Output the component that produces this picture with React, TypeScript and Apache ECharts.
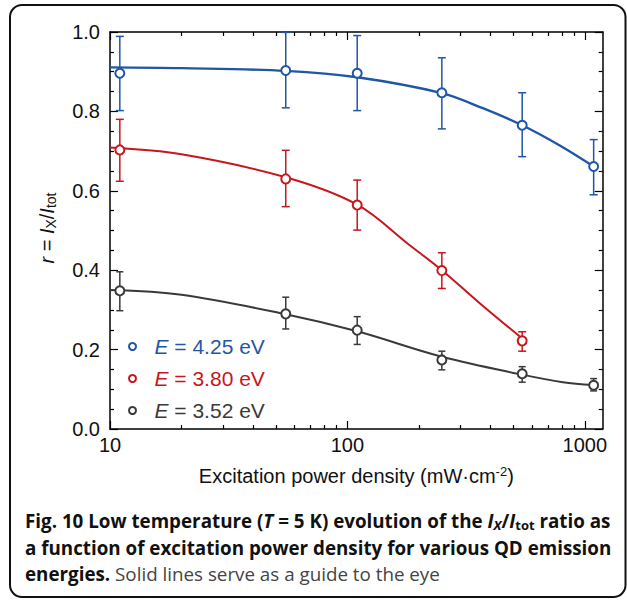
import React, { useEffect, useRef } from "react";
import * as echarts from "echarts";

// ---- data ----
const powers = [11, 55, 110, 250, 545, 1090]; // mW·cm^-2
const powersRed = [11, 55, 110, 250, 545];

const r425 = [0.896, 0.903, 0.896, 0.847, 0.765, 0.661];
const r425Hi = [0.989, 0.999, 0.991, 0.935, 0.847, 0.729];
const r425Lo = [0.802, 0.809, 0.802, 0.756, 0.686, 0.59];

const r380 = [0.703, 0.63, 0.564, 0.399, 0.222];
const r380Hi = [0.78, 0.702, 0.627, 0.444, 0.245];
const r380Lo = [0.624, 0.56, 0.501, 0.354, 0.196];

const r352 = [0.348, 0.29, 0.249, 0.174, 0.139, 0.11];
const r352Hi = [0.396, 0.332, 0.283, 0.196, 0.157, 0.127];
const r352Lo = [0.298, 0.252, 0.213, 0.149, 0.118, 0.096];

// guide-to-the-eye curves
const guide425X = [10, 20, 55, 110, 250, 372, 545, 785, 1090];
const guide425Y = [0.911, 0.909, 0.902, 0.886, 0.846, 0.808, 0.765, 0.714, 0.661];
const guide380X = [10, 20, 55, 110, 183, 250, 361, 545];
const guide380Y = [0.709, 0.692, 0.634, 0.565, 0.463, 0.4, 0.317, 0.228];
const guide352X = [10, 20, 55, 110, 250, 545, 809, 1090];
const guide352Y = [0.35, 0.338, 0.289, 0.246, 0.182, 0.137, 0.118, 0.111];

const seriesNames = ["E = 4.25 eV", "E = 3.80 eV", "E = 3.52 eV"];
const xMin = 10;
const xMax = 1190;
const xMajorTicks = [10, 100, 1000];
const xMinorTicks = [20, 30, 40, 50, 60, 70, 80, 90, 200, 300, 400, 500, 600, 700, 800, 900];

const BLUE = "#1f56a5";
const RED = "#c8161e";
const DARK = "#3a3a3a";
const FONT = "Liberation Sans, Arial, sans-serif";
const CAP_FONT = "Open Sans, Noto Sans, sans-serif";
const CAP_SIZE = 18.8;

const lg = (v: number) => Math.log10(v);

function errorBars(xs: number[], lo: number[], hi: number[], color: string, cap: number) {
  return {
    type: "custom",
    xAxisIndex: 0,
    yAxisIndex: 0,
    silent: true,
    clip: false,
    z: 3,
    data: xs.map((x, i) => [lg(x), lo[i], hi[i]]),
    renderItem: (_p: any, api: any) => {
      const x = api.value(0);
      const a = api.coord([x, api.value(1)]);
      const b = api.coord([x, api.value(2)]);
      const style = { stroke: color, lineWidth: 1.5 };
      return {
        type: "group",
        children: [
          { type: "line", shape: { x1: a[0], y1: a[1], x2: b[0], y2: b[1] }, style },
          { type: "line", shape: { x1: a[0] - cap, y1: a[1], x2: a[0] + cap, y2: a[1] }, style },
          { type: "line", shape: { x1: b[0] - cap, y1: b[1], x2: b[0] + cap, y2: b[1] }, style },
        ],
      };
    },
  };
}

function guide(xs: number[], ys: number[], color: string, width: number) {
  return {
    type: "line",
    xAxisIndex: 0,
    yAxisIndex: 0,
    data: xs.map((x, i) => [lg(x), ys[i]]),
    smooth: 0.35,
    showSymbol: false,
    symbol: "none",
    silent: true,
    z: 2,
    lineStyle: { color, width },
  };
}

function points(name: string, xs: number[], ys: number[], color: string) {
  return {
    type: "scatter",
    name,
    xAxisIndex: 0,
    yAxisIndex: 0,
    data: xs.map((x, i) => [lg(x), ys[i]]),
    symbol: "circle",
    symbolSize: 9,
    z: 4,
    itemStyle: { color: "#ffffff", borderColor: color, borderWidth: 2, opacity: 1 },
  };
}

const axisLine = { show: true, lineStyle: { color: "#000", width: 1.5 } };

function xAxisDef(position: "bottom" | "top", minor: boolean, labels: boolean) {
  const base: any = {
    type: "value",
    position,
    min: lg(xMin),
    max: lg(xMax),
    interval: 1,
    splitLine: { show: false },
    axisLine: minor ? { show: false } : axisLine,
    axisTick: minor
      ? { show: true, inside: true, length: 4, lineStyle: { color: "#000", width: 1.2 }, customValues: xMinorTicks.map(lg) }
      : { show: true, inside: true, length: 8, lineStyle: { color: "#000", width: 1.2 }, customValues: xMajorTicks.map(lg) },
    axisLabel: labels
      ? {
          show: true,
          margin: 6,
          fontSize: 20,
          fontFamily: FONT,
          color: "#111",
          customValues: xMajorTicks.map(lg),
          formatter: (v: number) => String(Math.round(Math.pow(10, v))),
        }
      : { show: false },
  };
  if (labels) {
    base.name = "Excitation power density (mW·cm{sup|-2})";
    base.nameLocation = "middle";
    base.nameGap = 36;
    base.nameTextStyle = {
      fontSize: 20,
      fontFamily: FONT,
      color: "#111",
      lineHeight: 22,
      rich: { sup: { fontSize: 13, lineHeight: 11, verticalAlign: "top", fontFamily: FONT, color: "#111" } },
    };
  }
  return base;
}

function yAxisDef(position: "left" | "right", labels: boolean) {
  return {
    type: "value",
    position,
    min: 0,
    max: 1,
    interval: 0.2,
    splitLine: { show: false },
    axisLine,
    axisTick: { show: true, inside: true, length: 8, lineStyle: { color: "#000", width: 1.2 } },
    minorTick: { show: true, splitNumber: 4, length: 4, lineStyle: { color: "#000", width: 1.2 } },
    minorSplitLine: { show: false },
    axisLabel: labels
      ? { show: true, margin: 10, fontSize: 20, fontFamily: FONT, color: "#111", formatter: (v: number) => v.toFixed(1) }
      : { show: false },
  };
}

const capRich = {
  bi: { fontFamily: CAP_FONT, fontWeight: "bold", fontStyle: "italic", fontSize: CAP_SIZE, lineHeight: 22, fill: "#111" },
  bs: { fontFamily: CAP_FONT, fontWeight: "bold", fontSize: 13, lineHeight: 10, verticalAlign: "bottom", fill: "#111" },
  bsi: { fontFamily: CAP_FONT, fontWeight: "bold", fontStyle: "italic", fontSize: 13, lineHeight: 10, verticalAlign: "bottom", fill: "#111" },
  lt: { fontFamily: CAP_FONT, fontWeight: "normal", fontSize: CAP_SIZE, lineHeight: 22, fill: "#444" },
};

function capLine(text: string, baseline: number) {
  return {
    type: "text",
    x: 25,
    y: baseline - 6.2,
    silent: true,
    style: {
      text,
      rich: capRich,
      fontFamily: CAP_FONT,
      fontWeight: "bold",
      fontSize: CAP_SIZE,
      lineHeight: 22,
      fill: "#111",
      align: "left",
      verticalAlign: "middle",
    },
  };
}

export default function App() {
  const ref = useRef<HTMLDivElement>(null);
  useEffect(() => {
    document.body.style.margin = "0";
    if (!ref.current) return;
    const chart = echarts.init(ref.current, null, { renderer: "svg" });
    const colors = [BLUE, RED, DARK];
    chart.setOption({
      animation: false,
      backgroundColor: "#ffffff",
      grid: { left: 110, right: 24.3, top: 32, bottom: 171, containLabel: false, outerBoundsMode: "none" },
      xAxis: [
        xAxisDef("bottom", false, true),
        xAxisDef("bottom", true, false),
        xAxisDef("top", false, false),
        xAxisDef("top", true, false),
      ],
      yAxis: [yAxisDef("left", true), yAxisDef("right", false)],
      legend: {
        orient: "vertical",
        left: 123,
        top: 331,
        itemWidth: 34,
        itemHeight: 7,
        itemGap: 11,
        icon: "circle",
        selectedMode: false,
        data: seriesNames.map((n, i) => ({ name: n, textStyle: { color: colors[i] } })),
        formatter: (name: string) => "{i|E} = " + name.split("= ")[1],
        textStyle: {
          fontSize: 21,
          fontFamily: FONT,
          lineHeight: 20,
          rich: { i: { fontStyle: "italic", fontSize: 21, fontFamily: FONT, lineHeight: 20 } },
        },
      },
      graphic: [
        {
          type: "rect",
          silent: true,
          shape: { x: 10, y: 5, width: 615.5, height: 592, r: 12 },
          style: { fill: "none", stroke: "#111", lineWidth: 2 },
        },
        {
          type: "text",
          x: 47,
          y: 228,
          rotation: Math.PI / 2,
          silent: true,
          style: {
            text: "{i|r} = {i|I}{sub|X}/{i|I}{sub|tot}",
            fontFamily: FONT,
            fontSize: 20,
            lineHeight: 22,
            fill: "#111",
            align: "center",
            verticalAlign: "middle",
            rich: {
              i: { fontStyle: "italic", fontFamily: FONT, fontSize: 20, lineHeight: 22, fill: "#111" },
              sub: { fontFamily: FONT, fontSize: 14, lineHeight: 10, verticalAlign: "bottom", fill: "#111" },
            },
          },
        },
        capLine("Fig. 10 Low temperature ({bi|T} = 5 K) evolution of the {bi|I}{bsi|X}/{bi|I}{bs|tot} ratio as", 527),
        capLine("a function of excitation power density for various QD emission", 554),
        capLine("energies. {lt|Solid lines serve as a guide to the eye}", 580),
      ],
      series: [
        guide(guide425X, guide425Y, BLUE, 2.4),
        guide(guide380X, guide380Y, RED, 2),
        guide(guide352X, guide352Y, DARK, 2),
        errorBars(powers, r425Lo, r425Hi, BLUE, 4),
        errorBars(powersRed, r380Lo, r380Hi, RED, 4),
        errorBars(powers, r352Lo, r352Hi, DARK, 3.5),
        points(seriesNames[0], powers, r425, BLUE),
        points(seriesNames[1], powersRed, r380, RED),
        points(seriesNames[2], powers, r352, DARK),
      ],
    });
    return () => chart.dispose();
  }, []);
  return <div ref={ref} style={{ width: 627, height: 600 }} />;
}
